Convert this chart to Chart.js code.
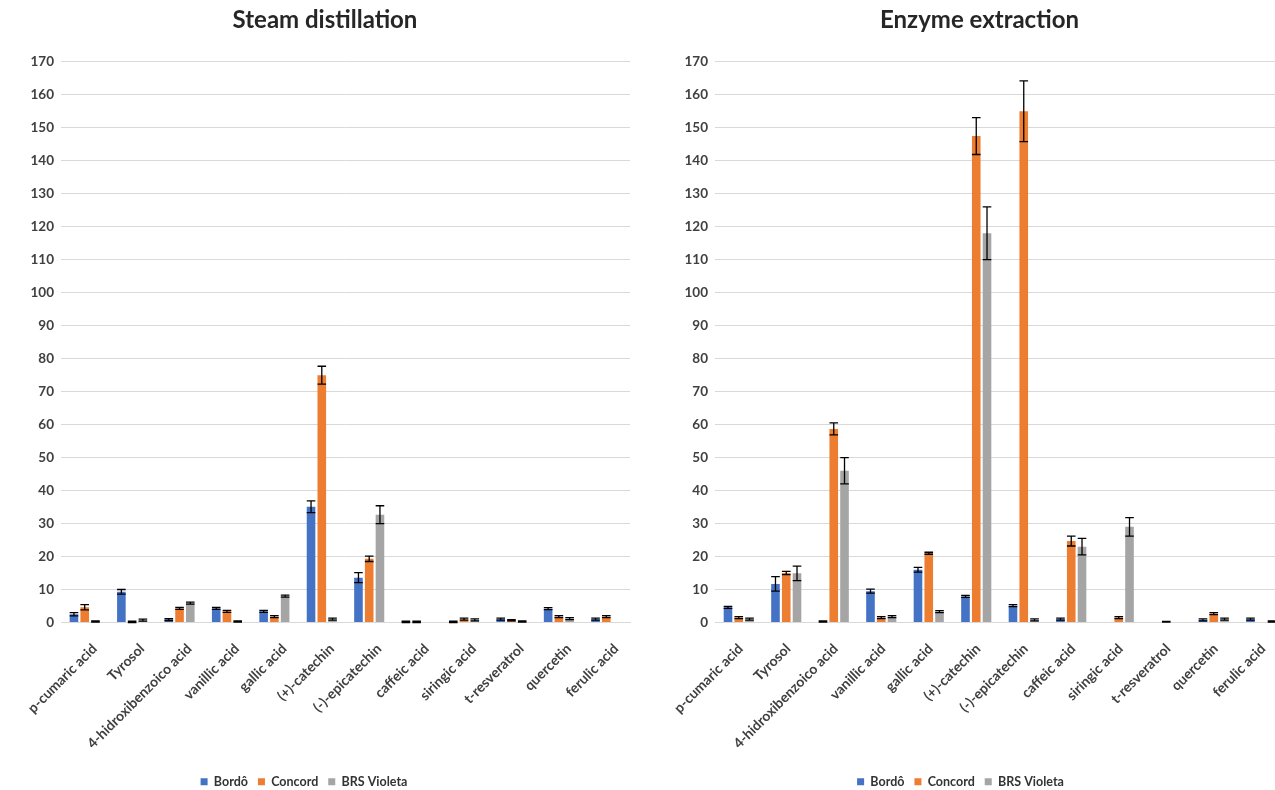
<!DOCTYPE html>
<html>
<head>
<meta charset="utf-8">
<script src="https://cdn.jsdelivr.net/npm/chart.js@4.4.1/dist/chart.umd.min.js"></script>
<style>
  html, body { margin: 0; padding: 0; background: #fff; overflow: hidden; width: 1275px; height: 790px; }
  #wrap { position: relative; width: 1275px; height: 790px; overflow: hidden; }
  canvas { position: absolute; top: 0; }
  #steam { left: 0; }
  #enzyme { left: 650px; }
</style>
</head>
<body>
<div id="wrap">
  <canvas id="steam" width="650" height="790"></canvas>
  <canvas id="enzyme" width="645" height="790"></canvas>
</div>
<script>
// Phenolic compounds on the category axis
const compounds = [
  'p-cumaric acid', 'Tyrosol', '4-hidroxibenzoico acid', 'vanillic acid', 'gallic acid',
  '(+)-catechin', '(-)-epicatechin', 'caffeic acid', 'siringic acid', 't-resveratrol',
  'quercetin', 'ferulic acid'
];
const varieties = ['Bordô', 'Concord', 'BRS Violeta'];
const varietyColors = ['#4472C4', '#ED7D31', '#A5A5A5'];

// Steam distillation: means and standard deviations
const steamBordo      = [2.5, 9.3, 0.9, 4.3, 3.4, 35.1, 13.6, 0.2, 0.2, 1.0, 4.2, 1.0];
const steamConcord    = [4.6, 0.2, 4.3, 3.4, 1.8, 75.0, 19.3, 0.2, 1.0, 0.7, 1.8, 1.8];
const steamViolet     = [0.3, 0.7, 5.9, 0.3, 8.0, 1.0, 32.7, 0, 0.8, 0.3, 1.2, 0];
const steamBordoSd    = [0.5, 0.7, 0.3, 0.3, 0.3, 1.8, 1.5, 0.2, 0.2, 0.3, 0.3, 0.3];
const steamConcordSd  = [0.8, 0.2, 0.3, 0.3, 0.3, 2.7, 0.8, 0.2, 0.3, 0.2, 0.3, 0.3];
const steamVioletSd   = [0.2, 0.3, 0.3, 0.2, 0.3, 0.3, 2.7, 0, 0.3, 0.2, 0.3, 0];

// Enzyme extraction: means and standard deviations
const enzymeBordo     = [4.6, 11.7, 0.3, 9.5, 16.0, 7.9, 5.1, 1.0, 0, 0, 0.8, 1.0];
const enzymeConcord   = [1.5, 15.0, 58.7, 1.5, 21.0, 147.5, 155.0, 24.7, 1.5, 0.2, 2.7, 0];
const enzymeViolet    = [1.0, 14.9, 46.0, 1.8, 3.3, 118.0, 0.8, 23.0, 29.0, 0, 1.0, 0.3];
const enzymeBordoSd   = [0.3, 2.2, 0.2, 0.6, 0.7, 0.3, 0.3, 0.3, 0, 0, 0.3, 0.3];
const enzymeConcordSd = [0.3, 0.5, 1.8, 0.3, 0.3, 5.6, 9.2, 1.5, 0.3, 0.1, 0.3, 0];
const enzymeVioletSd  = [0.3, 2.2, 4.0, 0.3, 0.3, 8.0, 0.3, 2.5, 2.8, 0, 0.3, 0.2];

// Value axis
const yMin = 0, yMax = 170, yStep = 10;

Chart.defaults.font.family = 'Lato, "Open Sans", sans-serif';
Chart.defaults.color = '#404040';

// Draws ± standard deviation whiskers on top of every bar
const errorBars = {
  id: 'errorBars',
  afterDatasetsDraw(chart) {
    const ctx = chart.ctx, y = chart.scales.y;
    chart.data.datasets.forEach((ds, i) => {
      const meta = chart.getDatasetMeta(i);
      if (meta.hidden) return;
      meta.data.forEach((bar, j) => {
        const v = ds.data[j], e = ds.errors[j];
        if (!e) return;
        const top = y.getPixelForValue(v + e);
        const bot = y.getPixelForValue(v - e);
        const half = bar.width / 2;
        ctx.save();
        ctx.strokeStyle = '#000';
        ctx.lineWidth = 1.3;
        ctx.beginPath();
        ctx.moveTo(bar.x, top); ctx.lineTo(bar.x, bot);
        ctx.moveTo(bar.x - half, top); ctx.lineTo(bar.x + half, top);
        ctx.moveTo(bar.x - half, bot); ctx.lineTo(bar.x + half, bot);
        ctx.stroke();
        ctx.restore();
      });
    });
  }
};

// Nudges the title and legend boxes sideways after layout
const boxOffset = {
  id: 'boxOffset',
  afterLayout(chart, args, opts) {
    const lg = chart.legend, tb = chart.titleBlock;
    if (lg) {
      lg.left += opts.legendDx || 0; lg.right += opts.legendDx || 0;
      lg.top += opts.legendDy || 0; lg.bottom += opts.legendDy || 0;
    }
    if (tb) {
      tb.left += opts.titleDx || 0; tb.right += opts.titleDx || 0;
    }
  }
};

function buildChart(id, title, series, errors, axisWidth, padRight, legendDx, titleDx, labelShift) {
  const datasets = varieties.map((name, k) => ({
    label: name,
    data: series[k],
    errors: errors[k],
    backgroundColor: varietyColors[k],
    borderWidth: 0,
    categoryPercentage: 0.68,
    barPercentage: 0.8
  }));
  return new Chart(document.getElementById(id), {
    type: 'bar',
    data: { labels: compounds, datasets },
    plugins: [errorBars, boxOffset],
    options: {
      responsive: false,
      animation: false,
      layout: { padding: { top: 0, right: padRight, bottom: 0, left: 0 } },
      plugins: {
        title: {
          display: true, text: title, color: '#262626',
          font: { size: 24, weight: 'bold' },
          padding: { top: 6, bottom: 27 }
        },
        legend: {
          position: 'bottom',
          labels: {
            boxWidth: 7, boxHeight: 7, padding: 10, color: '#333',
            font: { size: 12.5, weight: 'bold' }
          }
        },
        boxOffset: { legendDx, legendDy: 8, titleDx },
        tooltip: { enabled: false }
      },
      scales: {
        x: {
          grid: { display: false },
          border: { display: true, color: '#D9D9D9' },
          ticks: {
            autoSkip: false, maxRotation: 45, minRotation: 45,
            font: { size: 14, weight: 'bold' }, color: '#404040',
            padding: 10, labelOffset: labelShift
          },
          afterFit(s) { s.height = 135; }
        },
        y: {
          min: yMin, max: yMax,
          grid: { color: '#D9D9D9', lineWidth: 1, drawTicks: false },
          border: { display: false },
          ticks: { stepSize: yStep, font: { size: 13.5, weight: 'bold' }, color: '#404040', padding: 7 },
          afterFit(s) { s.width = axisWidth; }
        }
      }
    }
  });
}

buildChart('steam', 'Steam distillation',
  [steamBordo, steamConcord, steamViolet],
  [steamBordoSd, steamConcordSd, steamVioletSd], 61, 20, -11, 10, 10);

buildChart('enzyme', 'Enzyme extraction',
  [enzymeBordo, enzymeConcord, enzymeViolet],
  [enzymeBordoSd, enzymeConcordSd, enzymeVioletSd], 65, 10, -7, 12, 2);
</script>
</body>
</html>
